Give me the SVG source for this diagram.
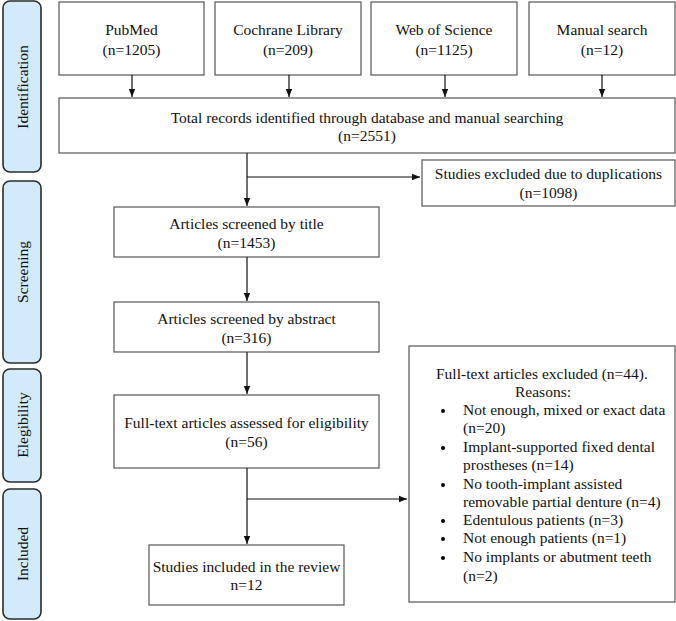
<svg xmlns="http://www.w3.org/2000/svg" width="676" height="621" viewBox="0 0 676 621">
<style>
text{font-family:"Liberation Serif","Times New Roman",serif;font-size:15.5px;fill:#111}
.c{text-anchor:middle}
.box{fill:#fff;stroke:#555;stroke-width:1.2}
.stage{fill:#d2eafa;stroke:#2b2b2b;stroke-width:1.6}
.ln{fill:none;stroke:#111;stroke-width:1.2}
</style>
<defs>
<marker id="ah" viewBox="0 0 10 10" refX="10" refY="5" markerWidth="8" markerHeight="8" markerUnits="userSpaceOnUse" orient="auto">
<path d="M0,1 L10,5 L0,9 Z" fill="#111"/>
</marker>
</defs>
<rect width="676" height="621" fill="#fff"/>
<g id="stage-identification">
<rect class="stage" x="3" y="1" width="38" height="171" rx="7"/>
<text class="c" transform="translate(28,87) rotate(-90)">Identification</text>
</g>
<g id="stage-screening">
<rect class="stage" x="3" y="181" width="38" height="182" rx="7"/>
<text class="c" transform="translate(28,272) rotate(-90)">Screening</text>
</g>
<g id="stage-eligibility">
<rect class="stage" x="3" y="369" width="38" height="113" rx="7"/>
<text class="c" transform="translate(28,425) rotate(-90)">Elegibility</text>
</g>
<g id="stage-included">
<rect class="stage" x="3" y="489" width="38" height="130" rx="7"/>
<text class="c" transform="translate(28,554) rotate(-90)">Included</text>
</g>
<g id="pubmed">
<rect class="box" x="59" y="2" width="145" height="73"/>
<text class="c" x="131.5" y="35">PubMed</text>
<text class="c" x="131.5" y="55">(n=1205)</text>
</g>
<g id="cochrane">
<rect class="box" x="215" y="2" width="146" height="73"/>
<text class="c" x="288" y="35">Cochrane Library</text>
<text class="c" x="288" y="55">(n=209)</text>
</g>
<g id="wos">
<rect class="box" x="371" y="2" width="146" height="73"/>
<text class="c" x="444" y="35">Web of Science</text>
<text class="c" x="444" y="55">(n=1125)</text>
</g>
<g id="manual">
<rect class="box" x="529" y="2" width="146" height="73"/>
<text class="c" x="602" y="35">Manual search</text>
<text class="c" x="602" y="55">(n=12)</text>
</g>
<g id="total">
<rect class="box" x="59" y="98" width="616" height="55"/>
<text class="c" x="367" y="123">Total records identified through database and manual searching</text>
<text class="c" x="367" y="141">(n=2551)</text>
</g>
<g id="duplicates">
<rect class="box" x="422" y="160" width="253" height="46"/>
<text class="c" x="548.5" y="179">Studies excluded due to duplications</text>
<text class="c" x="548.5" y="198">(n=1098)</text>
</g>
<g id="title">
<rect class="box" x="114" y="207" width="265" height="50"/>
<text class="c" x="246.5" y="229">Articles screened by title</text>
<text class="c" x="246.5" y="248">(n=1453)</text>
</g>
<g id="abstract">
<rect class="box" x="114" y="302" width="265" height="50"/>
<text class="c" x="246.5" y="324">Articles screened by abstract</text>
<text class="c" x="246.5" y="343">(n=316)</text>
</g>
<g id="fulltext">
<rect class="box" x="114" y="395" width="265" height="73"/>
<text class="c" x="246.5" y="428">Full-text articles assessed for eligibility</text>
<text class="c" x="246.5" y="447">(n=56)</text>
</g>
<g id="excluded">
<rect class="box" x="409" y="346" width="266" height="256"/>
<text x="436" y="379">Full-text articles excluded (n=44).</text>
<text class="c" x="543" y="397">Reasons:</text>
<g>
<circle cx="443" cy="411" r="2"/>
<circle cx="443" cy="448" r="2"/>
<circle cx="443" cy="485" r="2"/>
<circle cx="443" cy="521" r="2"/>
<circle cx="443" cy="539" r="2"/>
<circle cx="443" cy="558" r="2"/>
</g>
<text x="463" y="415">Not enough, mixed or exact data</text>
<text x="463" y="433">(n=20)</text>
<text x="463" y="452">Implant-supported fixed dental</text>
<text x="463" y="470">prostheses (n=14)</text>
<text x="463" y="489">No tooth-implant assisted</text>
<text x="463" y="507">removable partial denture (n=4)</text>
<text x="463" y="525">Edentulous patients (n=3)</text>
<text x="463" y="543">Not enough patients (n=1)</text>
<text x="463" y="562">No implants or abutment teeth</text>
<text x="463" y="581">(n=2)</text>
</g>
<g id="included">
<rect class="box" x="149" y="545" width="195" height="60"/>
<text class="c" x="246.5" y="572">Studies included in the review</text>
<text class="c" x="246.5" y="590">n=12</text>
</g>
<g id="connectors">
<line class="ln" x1="132" y1="75" x2="132" y2="97" marker-end="url(#ah)"/>
<line class="ln" x1="289" y1="75" x2="289" y2="97" marker-end="url(#ah)"/>
<line class="ln" x1="445" y1="75" x2="445" y2="97" marker-end="url(#ah)"/>
<line class="ln" x1="602" y1="75" x2="602" y2="97" marker-end="url(#ah)"/>
<line class="ln" x1="247" y1="153" x2="247" y2="206" marker-end="url(#ah)"/>
<line class="ln" x1="247" y1="177" x2="420" y2="177" marker-end="url(#ah)"/>
<line class="ln" x1="247" y1="257" x2="247" y2="301" marker-end="url(#ah)"/>
<line class="ln" x1="247" y1="352" x2="247" y2="394" marker-end="url(#ah)"/>
<line class="ln" x1="247" y1="468" x2="247" y2="544" marker-end="url(#ah)"/>
<line class="ln" x1="247" y1="499" x2="407" y2="499" marker-end="url(#ah)"/>
</g>
</svg>
